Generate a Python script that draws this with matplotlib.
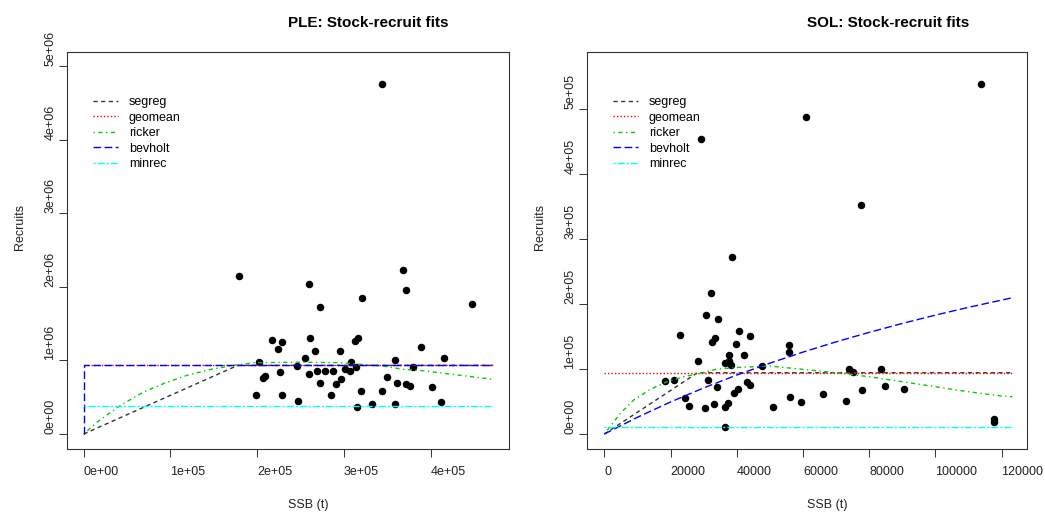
import matplotlib

matplotlib.use("Agg")
import matplotlib.pyplot as plt

plt.rcParams["font.family"] = ["Liberation Sans", "DejaVu Sans"]

# --- PLE observations (SSB in t, recruits) ---
ple_ssb = [179100, 259900, 272200, 321400, 368700, 371400, 448300, 344500,
           217600, 228700, 224100, 261000, 266400, 295600, 255300, 201800,
           246000, 226400, 208800, 206800, 259900, 269100, 278300, 287500,
           272900, 297200, 291500, 199200, 228700, 284900, 246800,
           316400, 312600, 389500, 308000, 359500, 415200, 301000, 306800,
           314500, 379500, 350300, 361400, 371400, 376800, 401700, 319500,
           343700, 332500, 359500, 315200, 412600]
ple_rec = [2.147e6, 2.034e6, 1.721e6, 1.843e6, 2.224e6, 1.952e6, 1.771e6, 4.751e6,
           1.277e6, 1.246e6, 1.159e6, 1.300e6, 1.124e6, 1.124e6, 1.037e6, 0.982e6,
           0.928e6, 0.838e6, 0.792e6, 0.765e6, 0.815e6, 0.856e6, 0.856e6, 0.856e6,
           0.697e6, 0.747e6, 0.683e6, 0.526e6, 0.526e6, 0.526e6, 0.444e6,
           1.300e6, 1.259e6, 1.178e6, 0.982e6, 1.010e6, 1.033e6, 0.887e6, 0.856e6,
           0.914e6, 0.914e6, 0.770e6, 0.697e6, 0.683e6, 0.652e6, 0.643e6, 0.584e6,
           0.584e6, 0.412e6, 0.404e6, 0.371e6, 0.431e6]

# --- PLE fitted curves ---
ple_segreg_ssb = [0, 177600, 472000]
ple_segreg_rec = [0, 0.932e6, 0.932e6]
ple_geomean_ssb = [0, 472000]
ple_geomean_rec = [0.932e6, 0.932e6]
ple_ricker_ssb = [0, 16100, 43000, 70000, 93000, 120000, 146800, 173800, 196900,
                  250000, 295000, 318000, 345000, 368000, 391000, 422000, 472000]
ple_ricker_rec = [0, 0.167e6, 0.394e6, 0.575e6, 0.689e6, 0.800e6, 0.879e6, 0.933e6,
                  0.969e6, 0.975e6, 0.969e6, 0.947e6, 0.924e6, 0.879e6, 0.860e6,
                  0.815e6, 0.743e6]
ple_bevholt_ssb = [0, 0, 472000]
ple_bevholt_rec = [0, 0.932e6, 0.932e6]
ple_minrec_ssb = [0, 472000]
ple_minrec_rec = [0.380e6, 0.380e6]

# --- SOL observations ---
sol_ssb = [29300, 61000, 77550, 113900, 38460, 32320, 30720, 34350, 22960, 40580,
           44110, 33530, 32630, 39880, 37760, 42080, 28300, 36350, 37760, 38370,
           47730, 18220, 21060, 31210, 34050, 40270, 39270, 43110, 43900, 24260,
           25470, 30510, 33140, 36340, 37370, 36340, 51000, 55890, 55890, 74020,
           75010, 83590, 55980, 59510, 66070, 72900, 77940, 84890, 90420, 117800,
           117600]
sol_rec = [454300, 487200, 352300, 538500, 271800, 216500, 183600, 176900, 152300,
           158500, 151200, 147200, 141500, 138500, 122000, 122000, 112800, 109700,
           112300, 106600, 104600, 82000, 82600, 83100, 72800, 68800, 62600, 80500,
           75400, 54900, 43500, 39500, 46200, 41000, 48100, 11200, 42000, 136900,
           126600, 99500, 95800, 100000, 56400, 48700, 61500, 50300, 68200, 74300,
           69200, 22600, 18900]

# --- SOL fitted curves ---
sol_segreg_ssb = [0, 28150, 123300]
sol_segreg_rec = [0, 94300, 94300]
sol_geomean_ssb = [0, 123300]
sol_geomean_rec = [94300, 94300]
sol_ricker_ssb = [0, 4830, 8860, 13900, 18940, 23960, 29000, 34000, 41000, 50000,
                  60000, 70000, 80000, 90000, 100000, 110000, 120000, 123300]
sol_ricker_rec = [0, 31800, 52300, 68800, 80500, 88200, 93400, 100000, 102600,
                  104600, 99500, 94300, 88200, 80500, 72800, 65100, 58500, 57400]
sol_bevholt_ssb = [0, 10000, 20000, 30000, 40000, 50000, 60000, 70000, 80000,
                   90000, 100000, 110000, 123300]
sol_bevholt_rec = [0, 25800, 49300, 70900, 90700, 109000, 126000, 141800, 156400,
                   170100, 182900, 194900, 209700]
sol_minrec_ssb = [0, 123300]
sol_minrec_rec = [11000, 11000]

MODELS = ["segreg", "geomean", "ricker", "bevholt", "minrec"]
COLORS = ["#333333", "red", "#00CD00", "blue", "cyan"]
STYLES = [(0, (3, 2.5)), (0, (1, 1.5)), (0, (1, 2.5, 3, 2.5)),
          (0, (5.5, 2.5)), (0, (1.5, 1.5, 5, 1.5))]

panels = [
    {
        "title": "PLE: Stock-recruit fits",
        "ssb": ple_ssb, "rec": ple_rec,
        "curves": [(ple_segreg_ssb, ple_segreg_rec), (ple_geomean_ssb, ple_geomean_rec),
                   (ple_ricker_ssb, ple_ricker_rec), (ple_bevholt_ssb, ple_bevholt_rec),
                   (ple_minrec_ssb, ple_minrec_rec)],
        "xlim": (-19260, 490500), "ylim": (-0.204e6, 5.19e6),
        "xticks": [0, 1e5, 2e5, 3e5, 4e5],
        "xlabels": ["0e+00", "1e+05", "2e+05", "3e+05", "4e+05"],
        "yticks": [0, 1e6, 2e6, 3e6, 4e6, 5e6],
        "ylabels": ["0e+00", "1e+06", "2e+06", "3e+06", "4e+06", "5e+06"],
        "rect": [67 / 1045, 63 / 512, 442 / 1045, 397 / 512],
    },
    {
        "title": "SOL: Stock-recruit fits",
        "ssb": sol_ssb, "rec": sol_rec,
        "curves": [(sol_segreg_ssb, sol_segreg_rec), (sol_geomean_ssb, sol_geomean_rec),
                   (sol_ricker_ssb, sol_ricker_rec), (sol_bevholt_ssb, sol_bevholt_rec),
                   (sol_minrec_ssb, sol_minrec_rec)],
        "xlim": (-5230, 127700), "ylim": (-23000, 587700),
        "xticks": [0, 20000, 40000, 60000, 80000, 100000, 120000],
        "xlabels": ["0", "20000", "40000", "60000", "80000", "100000", "120000"],
        "yticks": [0, 1e5, 2e5, 3e5, 4e5, 5e5],
        "ylabels": ["0e+00", "1e+05", "2e+05", "3e+05", "4e+05", "5e+05"],
        "rect": [587 / 1045, 63 / 512, 440 / 1045, 397 / 512],
    },
]

fig = plt.figure(figsize=(10.45, 5.12), dpi=100)

for p in panels:
    ax = fig.add_axes(p["rect"])
    ax.plot(p["ssb"], p["rec"], "o", color="black", markersize=4.4, zorder=2)
    for (xs, ys), name, col, ls in zip(p["curves"], MODELS, COLORS, STYLES):
        ax.plot(xs, ys, color=col, linestyle=ls, linewidth=1.0, label=name, zorder=3)

    ax.set_xlim(*p["xlim"])
    ax.set_ylim(*p["ylim"])
    ax.set_xticks(p["xticks"], p["xlabels"])
    ax.set_yticks(p["yticks"], p["ylabels"])
    ax.tick_params(axis="both", direction="out", length=6, width=0.7,
                   labelsize=9, labelcolor="#222222", color="#333333")
    ax.tick_params(axis="x", pad=6.3)
    ax.tick_params(axis="y", pad=1.7, labelrotation=90)
    for lab in ax.get_xticklabels():
        lab.set_ha("left")
    for lab in ax.get_yticklabels():
        lab.set_va("bottom")
        lab.set_ha("right")
    for sp in ax.spines.values():
        sp.set_linewidth(0.8)
        sp.set_color("#333333")

    ax.set_title(p["title"], fontsize=11, fontweight="bold", ha="left", pad=18)
    ax.set_xlabel("SSB (t)", fontsize=9, ha="left", color="#222222")
    ax.xaxis.set_label_coords(0.5, -0.126)
    ax.xaxis.label.set_va("top")
    ax.set_ylabel("Recruits", fontsize=9, ha="left", color="#222222")
    ax.yaxis.set_label_coords(-0.093, 0.5)

    ax.legend(loc="upper left", bbox_to_anchor=(0.0588, 0.889), frameon=False,
              borderpad=0, borderaxespad=0, handlelength=2.0, handletextpad=0.88,
              labelspacing=0.28, fontsize=9)

fig.savefig("out.png", dpi=100)
